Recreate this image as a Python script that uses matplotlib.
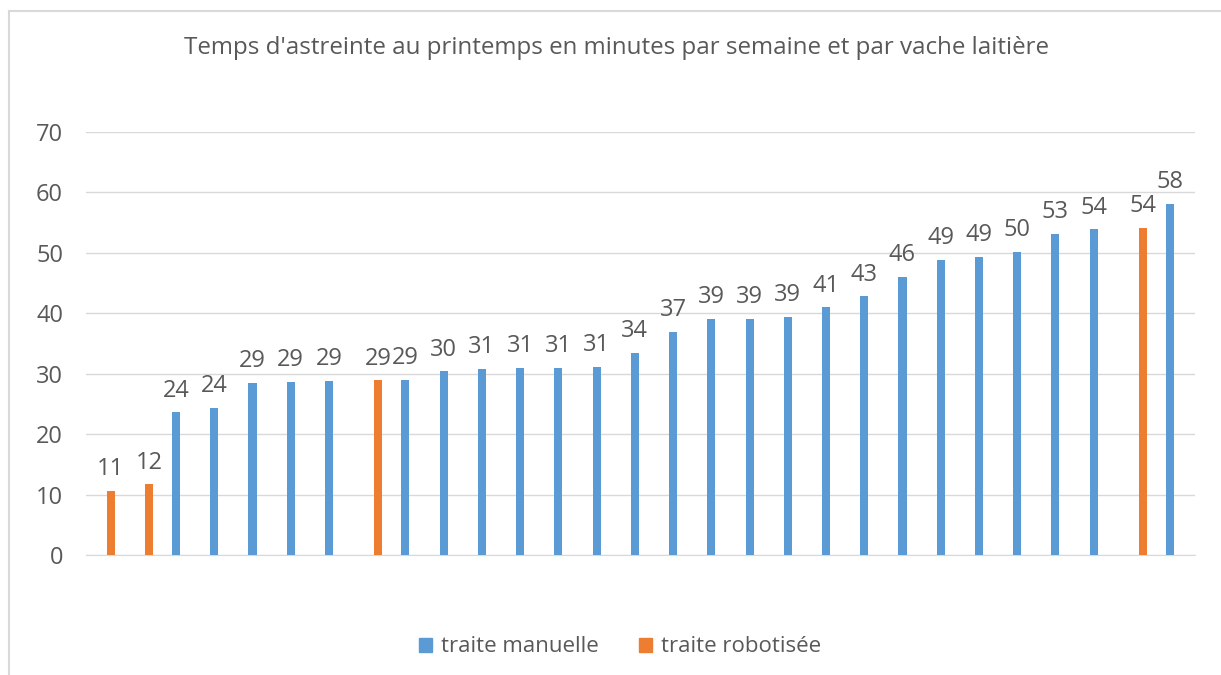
import numpy as np
import matplotlib
matplotlib.use("Agg")
import matplotlib.pyplot as plt
from matplotlib.lines import Line2D

title = "Temps d'astreinte au printemps en minutes par semaine et par vache laitière"
series_names = ["traite manuelle", "traite robotisée"]
# one entry per category (29); None = no bar for that series
manuelle = [None, None, 23.6, 24.3, 28.5, 28.6, 28.8, None, 29.0, 30.4, 30.8, 31.0,
            31.0, 31.1, 33.5, 36.9, 39.1, 39.1, 39.4, 41.0, 42.8, 46.0, 48.8, 49.3,
            50.2, 53.1, 53.9, None, 58.1]
robotisee = [10.6, 11.7, None, None, None, None, None, 28.9, None, None, None, None,
             None, None, None, None, None, None, None, None, None, None, None, None,
             None, None, None, 54.1, None]
yticks = [0, 10, 20, 30, 40, 50, 60, 70]

colors = ["#5B9BD5", "#ED7D31"]
txt = "#595959"
plt.rcParams['font.family'] = ['Open Sans', 'DejaVu Sans']

fig = plt.figure(figsize=(12.21, 6.75), dpi=100)
ax = fig.add_axes([86/1221, 1-555/675, (1194.8-86)/1221, (555-132)/675])

n = len(manuelle)
x = np.arange(n)
w = 0.21
off = 0.145
for vals, col, sgn in [(manuelle, colors[0], -1), (robotisee, colors[1], 1)]:
    v = np.array([np.nan if a is None else a for a in vals], dtype=float)
    m = ~np.isnan(v)
    bars = ax.bar(x[m] + sgn*off, v[m], width=w, color=col, zorder=3)
    for b, val in zip(bars, v[m]):
        ax.annotate(f"{int(val + 0.5)}", (b.get_x() + b.get_width()/2, val),
                    xytext=(0, 7), textcoords="offset points",
                    ha="center", va="bottom", fontsize=17, color=txt)

ax.set_xlim(-0.5, n - 0.5)
ax.set_ylim(0, 70)
ax.set_yticks(yticks)
ax.set_xticks([])
ax.tick_params(axis='y', length=0, pad=16.5, labelsize=17, labelcolor=txt)
ax.grid(axis='y', color="#D9D9D9", linewidth=1, zorder=0)
for s in ["top", "right", "left"]:
    ax.spines[s].set_visible(False)
ax.spines["bottom"].set_color("#D9D9D9")
ax.spines["bottom"].set_zorder(1)

fig.text(616/1221, 1-48/675, title, ha="center", va="center", fontsize=17.4, color=txt)

handles = [plt.Rectangle((0, 0), 1, 1, color=c) for c in colors]
fig.legend(handles, series_names, loc="center", bbox_to_anchor=(620/1221, 1-647/675),
           ncol=2, frameon=False, fontsize=16, labelcolor=txt, handlelength=0.6,
           handleheight=0.6, handletextpad=0.4, columnspacing=1.8)

# outer chart border (visible on top and left only)
fig.add_artist(Line2D([8.5/1221, 8.5/1221], [0, 1-11/675], transform=fig.transFigure,
                      color="#D9D9D9", linewidth=1.5))
fig.add_artist(Line2D([8.5/1221, 1], [1-11/675, 1-11/675], transform=fig.transFigure,
                      color="#D9D9D9", linewidth=1.5))

fig.savefig("out.png", dpi=100)
